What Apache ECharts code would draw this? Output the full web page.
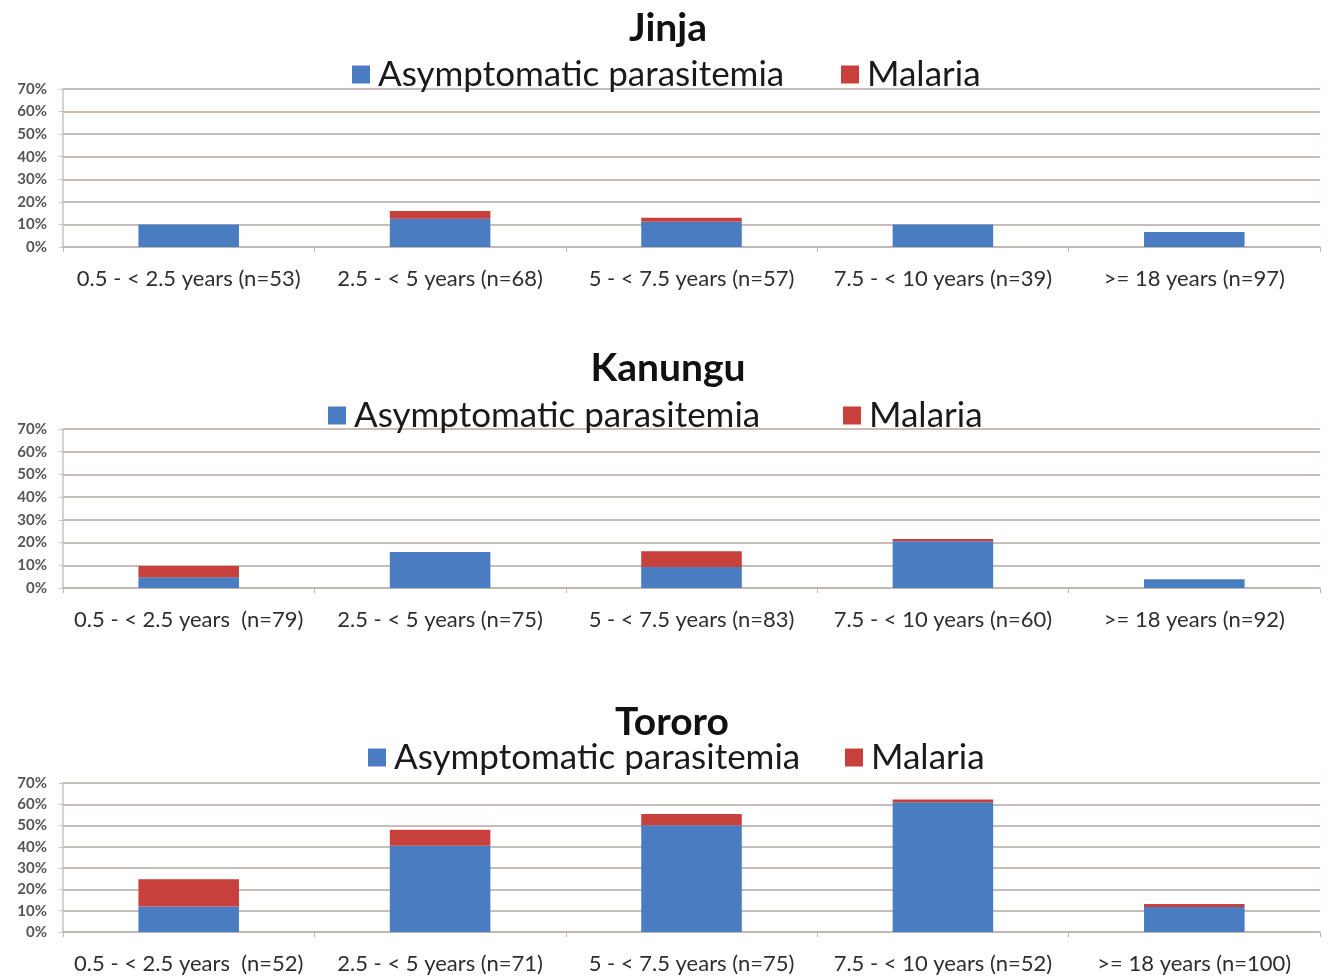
<!DOCTYPE html>
<html>
<head>
<meta charset="utf-8">
<script src="https://cdn.jsdelivr.net/npm/echarts@6/dist/echarts.min.js"></script>
<style>
html,body{margin:0;padding:0;background:#fff;}
#chart{width:1329px;height:978px;}
</style>
</head>
<body>
<div id="chart"></div>
<script>
// ---- data ----
const panelTitles = ['Jinja', 'Kanungu', 'Tororo'];
const seriesNames = ['Asymptomatic parasitemia', 'Malaria'];
const yTicks = [0, 10, 20, 30, 40, 50, 60, 70];

const jinjaCats = ['0.5 - < 2.5 years (n=53)', '2.5 - < 5 years (n=68)', '5 - < 7.5 years (n=57)', '7.5 - < 10 years (n=39)', '>= 18 years (n=97)'];
const jinjaAsym = [10, 12.5, 11.2, 10, 6.7];
const jinjaMal = [0, 3.5, 1.8, 0, 0];

const kanunguCats = ['0.5 - < 2.5 years  (n=79)', '2.5 - < 5 years (n=75)', '5 - < 7.5 years (n=83)', '7.5 - < 10 years (n=60)', '>= 18 years (n=92)'];
const kanunguAsym = [4.7, 15.8, 9.2, 20.6, 3.9];
const kanunguMal = [5, 0, 7, 1, 0];

const tororoCats = ['0.5 - < 2.5 years  (n=52)', '2.5 - < 5 years (n=71)', '5 - < 7.5 years (n=75)', '7.5 - < 10 years (n=52)', '>= 18 years (n=100)'];
const tororoAsym = [12, 40.5, 50.2, 61, 11.8];
const tororoMal = [12.8, 7.5, 5.2, 1.2, 1.4];

// ---- layout / style ----
const cats = [jinjaCats, kanunguCats, tororoCats];
const asym = [jinjaAsym, kanunguAsym, tororoAsym];
const mal = [jinjaMal, kanunguMal, tororoMal];
const colors = ['#4a7cc2', '#c8403c'];
const grids = [
  {top: 89, height: 158},
  {top: 429, height: 159},
  {top: 783, height: 149}
];
const titlePos = [{left: 663, top: 4}, {left: 663, top: 344}, {left: 667, top: 698}];
const legendPos = [
  [{left: 347, top: 52}, {left: 836, top: 52}],
  [{left: 323, top: 393}, {left: 838, top: 393}],
  [{left: 363, top: 735}, {left: 840, top: 735}]
];
const font = 'Lato, "Open Sans", sans-serif';

const option = {
  backgroundColor: '#fff',
  animation: false,
  title: panelTitles.map((t, i) => ({
    text: t,
    left: titlePos[i].left,
    top: titlePos[i].top,
    textAlign: 'center',
    textStyle: {fontFamily: font, fontSize: 39, fontWeight: 'bold', color: '#111'}
  })),
  legend: [],
  grid: grids.map(g => ({left: 63, right: 9, top: g.top, height: g.height})),
  xAxis: cats.map((c, i) => ({
    type: 'category',
    gridIndex: i,
    data: c,
    axisLine: {show: true, lineStyle: {color: '#bdb6b2', width: 1.5}},
    axisTick: {show: true, length: 5, lineStyle: {color: '#bdb6b2'}},
    axisLabel: {fontFamily: font, fontSize: 22, color: '#2e2e2e', margin: 21, interval: 0}
  })),
  yAxis: cats.map((c, i) => ({
    type: 'value',
    gridIndex: i,
    min: 0, max: 70, interval: 10,
    axisLine: {show: true, lineStyle: {color: '#c8c2bf', width: 1.5}},
    axisTick: {show: true, length: 4, lineStyle: {color: '#c8c2bf'}},
    axisLabel: {fontFamily: font, fontSize: 15, fontWeight: 'bold', color: '#555', margin: 16,
      formatter: v => yTicks.includes(v) ? v + '%' : ''},
    splitLine: {show: true, lineStyle: {color: '#c9bdb8', width: 2}}
  })),
  series: []
};

legendPos.forEach((pair, i) => {
  pair.forEach((p, j) => {
    option.legend.push({
      data: [seriesNames[j]],
      left: p.left, top: p.top,
      icon: 'rect', itemWidth: 18, itemHeight: 18,
      selectedMode: false,
      textStyle: {fontFamily: font, fontSize: 35, color: '#1a1a1a', padding: [0, 0, 0, 3]}
    });
  });
});

cats.forEach((c, i) => {
  [asym[i], mal[i]].forEach((vals, j) => {
    option.series.push({
      name: seriesNames[j],
      type: 'bar',
      stack: 'p' + i,
      xAxisIndex: i,
      yAxisIndex: i,
      barWidth: '40%',
      itemStyle: {color: colors[j]},
      data: vals
    });
  });
});

const chart = echarts.init(document.getElementById('chart'), null, {renderer: 'canvas'});
chart.setOption(option);
</script>
</body>
</html>
